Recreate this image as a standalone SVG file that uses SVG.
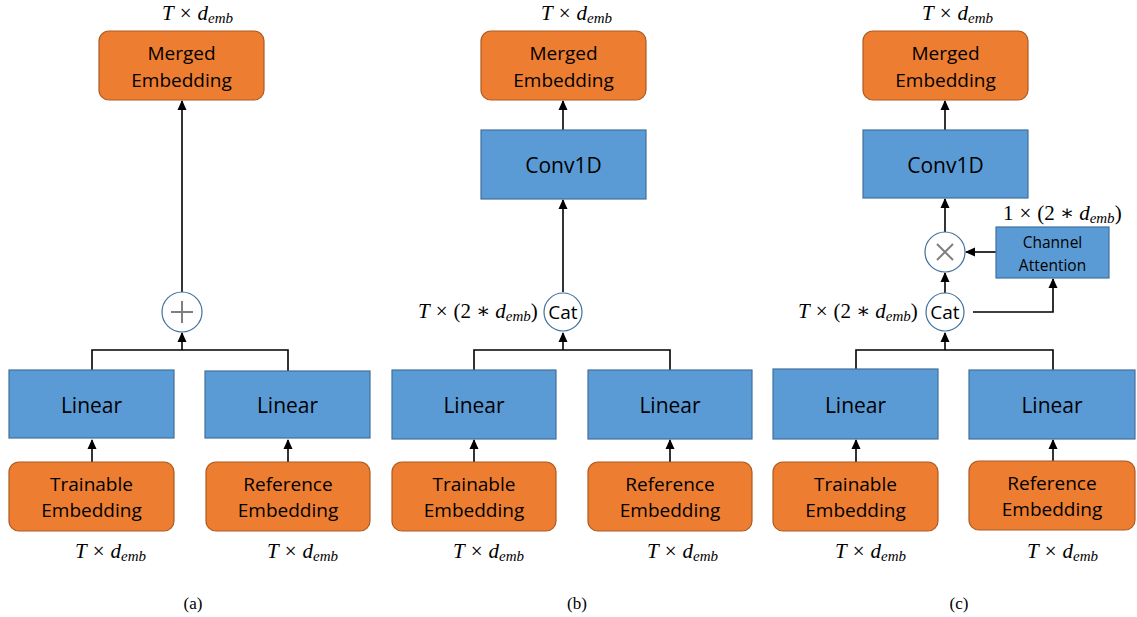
<svg xmlns="http://www.w3.org/2000/svg" width="1137" height="617" viewBox="0 0 1137 617">
<defs>
<marker id="ah" markerWidth="10" markerHeight="10" refX="9" refY="5" orient="auto" markerUnits="userSpaceOnUse">
<path d="M0,0.5 L10,5 L0,9.5 Z" fill="#000"/>
</marker>
<style>
.org{fill:#ED7D31;stroke:#AE5A21;stroke-width:1.2}
.blu{fill:#5B9BD5;stroke:#41719C;stroke-width:1.2}
.cir{fill:#fff;stroke:#41719C;stroke-width:1.2}
.sym{stroke:#7F7F7F;stroke-width:2;fill:none}
.t{font-family:"Open Sans","Liberation Sans",sans-serif;fill:#000;text-anchor:middle}
.s19{font-size:19px}
.s21{font-size:21px}
.s16{font-size:15.5px}
.m{font-family:"Liberation Serif","DejaVu Serif",serif;font-size:21px;fill:#000}
.i{font-style:italic}
.sub{font-style:italic;font-size:15px}
.cap{font-family:"Liberation Serif","DejaVu Serif",serif;font-size:17px;fill:#000;text-anchor:middle}
.c{fill:none;stroke:#000;stroke-width:1.6}
</style>
</defs>
<rect width="1137" height="617" fill="#fff"/>

<g id="connectors" class="c">
<!-- panel a -->
<path d="M92 462 V440" marker-end="url(#ah)"/>
<path d="M288 462 V440" marker-end="url(#ah)"/>
<path d="M92 370 V350 H288 V371"/>
<path d="M182 350 V333" marker-end="url(#ah)"/>
<path d="M182 292 V101" marker-end="url(#ah)"/>
<!-- panel b -->
<path d="M474 462 V440" marker-end="url(#ah)"/>
<path d="M670 462 V440" marker-end="url(#ah)"/>
<path d="M474 370 V350 H670 V370"/>
<path d="M563 350 V333" marker-end="url(#ah)"/>
<path d="M563 292 V200" marker-end="url(#ah)"/>
<path d="M563 130 V101" marker-end="url(#ah)"/>
<!-- panel c -->
<path d="M856 462 V440" marker-end="url(#ah)"/>
<path d="M1053 461 V440" marker-end="url(#ah)"/>
<path d="M856 369 V350 H1053 V370"/>
<path d="M945 350 V333" marker-end="url(#ah)"/>
<path d="M945 293 V273" marker-end="url(#ah)"/>
<path d="M945 232 V199" marker-end="url(#ah)"/>
<path d="M945 130 V101" marker-end="url(#ah)"/>
<path d="M996 252 H966" marker-end="url(#ah)"/>
<path d="M973 312 H1053 V279" marker-end="url(#ah)"/>
</g>

<!-- panel a -->
<g id="a-merged">
<rect class="org" x="99" y="31" width="165" height="69" rx="10"/>
<text class="t s19" x="181.5" y="60">Merged</text>
<text class="t s19" x="181.5" y="87">Embedding</text>
</g>
<g id="a-plus">
<circle class="cir" cx="182" cy="312" r="20"/>
<path class="sym" d="M171 312 H193 M182 301 V323"/>
</g>
<g id="a-linear1">
<rect class="blu" x="9" y="370" width="165" height="68"/>
<text class="t s21" x="91.5" y="413">Linear</text>
</g>
<g id="a-linear2">
<rect class="blu" x="205" y="371" width="165" height="67"/>
<text class="t s21" x="287.5" y="413">Linear</text>
</g>
<g id="a-trainable">
<rect class="org" x="9" y="462" width="165" height="69" rx="10"/>
<text class="t s19" x="91.5" y="491">Trainable</text>
<text class="t s19" x="91.5" y="517">Embedding</text>
</g>
<g id="a-reference">
<rect class="org" x="206" y="462" width="164" height="69" rx="10"/>
<text class="t s19" x="288" y="491">Reference</text>
<text class="t s19" x="288" y="517">Embedding</text>
</g>

<!-- panel b -->
<g id="b-merged">
<rect class="org" x="481" y="31" width="165" height="69" rx="10"/>
<text class="t s19" x="563.5" y="60">Merged</text>
<text class="t s19" x="563.5" y="87">Embedding</text>
</g>
<g id="b-conv">
<rect class="blu" x="481" y="130" width="165" height="69"/>
<text class="t s21" x="563.5" y="173">Conv1D</text>
</g>
<g id="b-cat">
<circle class="cir" cx="563" cy="312" r="19"/>
<text class="t s19" x="563" y="318.5">Cat</text>
</g>
<g id="b-linear1">
<rect class="blu" x="392" y="370" width="164" height="69"/>
<text class="t s21" x="474" y="413">Linear</text>
</g>
<g id="b-linear2">
<rect class="blu" x="588" y="370" width="164" height="69"/>
<text class="t s21" x="670" y="413">Linear</text>
</g>
<g id="b-trainable">
<rect class="org" x="392" y="462" width="164" height="69" rx="10"/>
<text class="t s19" x="474" y="491">Trainable</text>
<text class="t s19" x="474" y="517">Embedding</text>
</g>
<g id="b-reference">
<rect class="org" x="588" y="462" width="164" height="69" rx="10"/>
<text class="t s19" x="670" y="491">Reference</text>
<text class="t s19" x="670" y="517">Embedding</text>
</g>

<!-- panel c -->
<g id="c-merged">
<rect class="org" x="863" y="31" width="165" height="69" rx="10"/>
<text class="t s19" x="945.5" y="60">Merged</text>
<text class="t s19" x="945.5" y="87">Embedding</text>
</g>
<g id="c-conv">
<rect class="blu" x="863" y="130" width="165" height="68"/>
<text class="t s21" x="945.5" y="173">Conv1D</text>
</g>
<g id="c-mul">
<circle class="cir" cx="945" cy="252" r="20"/>
<path class="sym" d="M937 244 L953 260 M953 244 L937 260"/>
</g>
<g id="c-attn">
<rect class="blu" x="996" y="227" width="113" height="51"/>
<text class="t s16" x="1052.5" y="248">Channel</text>
<text class="t s16" x="1052.5" y="271">Attention</text>
</g>
<g id="c-cat">
<circle class="cir" cx="945" cy="312" r="19"/>
<text class="t s19" x="945" y="318.5">Cat</text>
</g>
<g id="c-linear1">
<rect class="blu" x="773" y="369" width="165" height="70"/>
<text class="t s21" x="855.5" y="413">Linear</text>
</g>
<g id="c-linear2">
<rect class="blu" x="969" y="370" width="166" height="69"/>
<text class="t s21" x="1052" y="413">Linear</text>
</g>
<g id="c-trainable">
<rect class="org" x="773" y="462" width="165" height="69" rx="10"/>
<text class="t s19" x="855.5" y="491">Trainable</text>
<text class="t s19" x="855.5" y="517">Embedding</text>
</g>
<g id="c-reference">
<rect class="org" x="969" y="461" width="166" height="69" rx="10"/>
<text class="t s19" x="1052" y="490">Reference</text>
<text class="t s19" x="1052" y="516">Embedding</text>
</g>

<!-- math labels -->
<g id="labels">
<text class="m" x="162" y="20"><tspan class="i">T</tspan><tspan dx="6">×</tspan><tspan class="i" dx="6">d</tspan><tspan class="sub" dy="3">emb</tspan></text>
<text class="m" x="541" y="20"><tspan class="i">T</tspan><tspan dx="6">×</tspan><tspan class="i" dx="6">d</tspan><tspan class="sub" dy="3">emb</tspan></text>
<text class="m" x="922" y="20"><tspan class="i">T</tspan><tspan dx="6">×</tspan><tspan class="i" dx="6">d</tspan><tspan class="sub" dy="3">emb</tspan></text>
<text class="m" x="75" y="558"><tspan class="i">T</tspan><tspan dx="6">×</tspan><tspan class="i" dx="6">d</tspan><tspan class="sub" dy="3">emb</tspan></text>
<text class="m" x="267" y="558"><tspan class="i">T</tspan><tspan dx="6">×</tspan><tspan class="i" dx="6">d</tspan><tspan class="sub" dy="3">emb</tspan></text>
<text class="m" x="453" y="558"><tspan class="i">T</tspan><tspan dx="6">×</tspan><tspan class="i" dx="6">d</tspan><tspan class="sub" dy="3">emb</tspan></text>
<text class="m" x="647" y="558"><tspan class="i">T</tspan><tspan dx="6">×</tspan><tspan class="i" dx="6">d</tspan><tspan class="sub" dy="3">emb</tspan></text>
<text class="m" x="835" y="558"><tspan class="i">T</tspan><tspan dx="6">×</tspan><tspan class="i" dx="6">d</tspan><tspan class="sub" dy="3">emb</tspan></text>
<text class="m" x="1027" y="558"><tspan class="i">T</tspan><tspan dx="6">×</tspan><tspan class="i" dx="6">d</tspan><tspan class="sub" dy="3">emb</tspan></text>
<text class="m" x="418" y="318"><tspan class="i">T</tspan><tspan dx="6">×</tspan><tspan dx="6">(2</tspan><tspan dx="5">∗</tspan><tspan class="i" dx="5">d</tspan><tspan class="sub" dy="3">emb</tspan><tspan dy="-3">)</tspan></text>
<text class="m" x="798" y="318"><tspan class="i">T</tspan><tspan dx="6">×</tspan><tspan dx="6">(2</tspan><tspan dx="5">∗</tspan><tspan class="i" dx="5">d</tspan><tspan class="sub" dy="3">emb</tspan><tspan dy="-3">)</tspan></text>
<text class="m" x="1003" y="220">1<tspan dx="6">×</tspan><tspan dx="6">(2</tspan><tspan dx="5">∗</tspan><tspan class="i" dx="5">d</tspan><tspan class="sub" dy="3">emb</tspan><tspan dy="-3">)</tspan></text>
<text class="cap" x="193" y="609">(a)</text>
<text class="cap" x="577" y="609">(b)</text>
<text class="cap" x="959" y="609">(c)</text>
</g>
</svg>
